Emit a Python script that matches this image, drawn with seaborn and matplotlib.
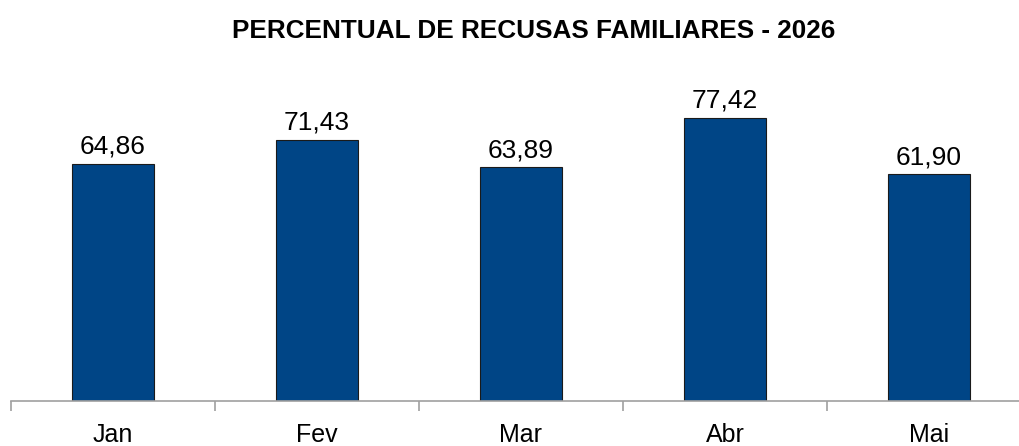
import pandas as pd
import matplotlib.pyplot as plt
import seaborn as sns

# dados do gráfico
meses = ['Jan', 'Fev', 'Mar', 'Abr', 'Mai']
percentuais = [64.86, 71.43, 63.89, 77.42, 61.90]

df = pd.DataFrame({'mes': meses, 'percentual': percentuais})

sns.set_style('white')
plt.rcParams['font.family'] = ['Liberation Sans', 'DejaVu Sans']
plt.rcParams['text.color'] = 'black'

fig = plt.figure(figsize=(10.2, 4.46), dpi=100)
ax = fig.add_axes([11 / 1020, 45 / 446, 1020 / 1020, 329.4 / 446])

sns.barplot(data=df, x='mes', y='percentual', color='#004586', saturation=1,
            width=0.4, edgecolor='#1a1a1a', linewidth=0.8, ax=ax)

for i, v in enumerate(df['percentual']):
    ax.annotate(f'{v:.2f}'.replace('.', ','), (i, v), xytext=(0, 3.5),
                textcoords='offset points', ha='center', va='bottom',
                fontsize=19, color='black')

ax.set_xlim(-0.5, 4.5)
ax.set_ylim(0, 90)
ax.set_xlabel('')
ax.set_ylabel('')
ax.set_yticks([])

for s in ['top', 'right', 'left']:
    ax.spines[s].set_visible(False)
ax.spines['bottom'].set_color('#a0a0a0')
ax.spines['bottom'].set_linewidth(1.2)

# marcas entre as categorias
ax.set_xticks([-0.5, 0.5, 1.5, 2.5, 3.5, 4.5], minor=True)
ax.tick_params(axis='x', which='minor', length=7.5, width=1.2, color='#a0a0a0',
               direction='out', bottom=True)
ax.tick_params(axis='x', which='major', length=0, pad=16, labelsize=18,
               labelcolor='black')

fig.text(534 / 1020, 1 - 31 / 446, 'PERCENTUAL DE RECUSAS FAMILIARES - 2026',
         ha='center', va='center', fontsize=18.8, fontweight='bold', color='black')

fig.savefig('out.png', dpi=100)
